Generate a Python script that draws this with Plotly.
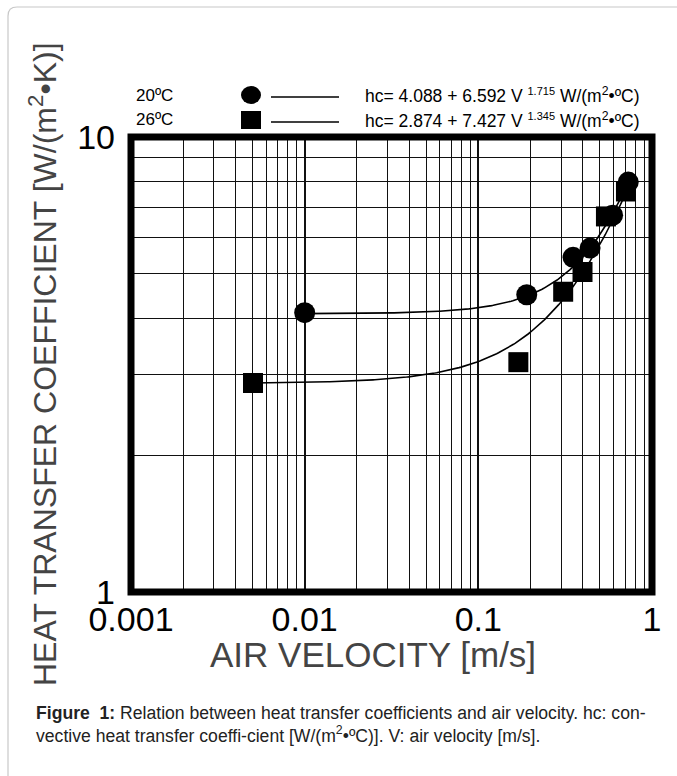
import plotly.graph_objects as go

# ---- data ----
v_20 = [0.010, 0.190, 0.351, 0.440, 0.593, 0.730]
hc_20 = [4.11, 4.50, 5.44, 5.70, 6.73, 7.96]
v_26 = [0.00504, 0.170, 0.308, 0.398, 0.543, 0.708]
hc_26 = [2.88, 3.20, 4.57, 5.05, 6.69, 7.59]

# fitted equations printed on the chart: hc = a + b * V**n
fit_20 = [4.088, 6.592, 1.715]
fit_26 = [2.874, 7.427, 1.345]

x_major = [0.001, 0.01, 0.1, 1]
x_major_text = ["0.001", "0.01", "0.1", "1"]
y_major = [1, 10]
y_major_text = ["1", "10"]
minor_digits = [2, 3, 4, 5, 6, 7, 8, 9]

W, H = 677, 776
L, R, T, B = 131, 25, 137, 184


def px(x):
    return (x - L) / (W - L - R)


def py(y):
    return (H - B - y) / (H - T - B)


def fit_curve(coef, v0, v1, n=200):
    a, b, e = coef
    vs = [v0 * (v1 / v0) ** (i / (n - 1)) for i in range(n)]
    return vs, [a + b * v ** e for v in vs]


x_minor = [d * 10 ** k for k in (-3, -2, -1) for d in minor_digits]
y_minor = [float(d) for d in minor_digits]

fig = go.Figure()

fx, fy = fit_curve(fit_20, v_20[0], v_20[-1])
fig.add_trace(go.Scatter(x=fx, y=fy, mode="lines", line=dict(color="black", width=1.6),
                         showlegend=False, hoverinfo="skip"))
fx, fy = fit_curve(fit_26, v_26[0], v_26[-1])
fig.add_trace(go.Scatter(x=fx, y=fy, mode="lines", line=dict(color="black", width=1.6),
                         showlegend=False, hoverinfo="skip"))
fig.add_trace(go.Scatter(x=v_20, y=hc_20, mode="markers", name="20ºC",
                         marker=dict(symbol="circle", size=21, color="black"), showlegend=False))
fig.add_trace(go.Scatter(x=v_26, y=hc_26, mode="markers", name="26ºC",
                         marker=dict(symbol="square", size=20, color="black"), showlegend=False))

font_main = "Liberation Sans, Arial, Helvetica, sans-serif"

fig.update_xaxes(type="log", range=[-3, 0], tickvals=x_major, ticktext=x_major_text,
                 showgrid=True, gridcolor="#111", gridwidth=2, showline=False, zeroline=False,
                 ticks="", ticklabelstandoff=4,
                 tickfont=dict(size=34, color="black", family=font_main),
                 minor=dict(tickvals=x_minor, showgrid=True, gridcolor="#111", gridwidth=1.3, ticks=""))
fig.update_yaxes(type="log", range=[0, 1], tickvals=y_major, ticktext=y_major_text,
                 showgrid=True, gridcolor="#111", gridwidth=2, showline=False, zeroline=False,
                 ticks="", ticklabelstandoff=15,
                 tickfont=dict(size=34, color="black", family=font_main),
                 minor=dict(tickvals=y_minor, showgrid=True, gridcolor="#111", gridwidth=1.3, ticks=""))

shapes = []
# plot frame
shapes.append(dict(type="rect", xref="paper", yref="paper", x0=0, x1=1, y0=0, y1=1,
                   line=dict(color="black", width=7), layer="above"))
# outer rounded frame (only top and left edges visible)
r = 9
path = (f"M {px(8)},{py(H + 5)} L {px(8)},{py(7 + r)} Q {px(8)},{py(7)} {px(8 + r)},{py(7)} "
        f"L {px(W + 5)},{py(7)}")
shapes.append(dict(type="path", xref="paper", yref="paper", path=path,
                   line=dict(color="#c8c8c8", width=1.2)))
# legend symbols
shapes.append(dict(type="circle", xref="paper", yref="paper", x0=px(241), x1=px(261),
                   y0=py(104), y1=py(86), fillcolor="black", line=dict(color="black", width=0)))
shapes.append(dict(type="rect", xref="paper", yref="paper", x0=px(241), x1=px(261),
                   y0=py(129), y1=py(111), fillcolor="black", line=dict(color="black", width=0)))
shapes.append(dict(type="line", xref="paper", yref="paper", x0=px(271), x1=px(339),
                   y0=py(97), y1=py(97), line=dict(color="black", width=1.3)))
shapes.append(dict(type="line", xref="paper", yref="paper", x0=px(271), x1=px(339),
                   y0=py(122), y1=py(122), line=dict(color="black", width=1.3)))


def exp_sup(s):
    return f"<sup><span style='font-size:11px'>{s}</span></sup>"


annotations = []
annotations.append(dict(text="HEAT TRANSFER COEFFICIENT [W/(m<sup>2</sup>•K)]", textangle=-90,
                        xref="paper", yref="paper", x=px(43), y=py(364), xanchor="center",
                        yanchor="middle", showarrow=False,
                        font=dict(size=32, color="#444", family=font_main)))
annotations.append(dict(text="AIR VELOCITY [m/s]", xref="paper", yref="paper",
                        x=px(373), y=py(654), xanchor="center", yanchor="middle", showarrow=False,
                        font=dict(size=35, color="#444", family=font_main)))
annotations.append(dict(text="20ºC", xref="paper", yref="paper", x=px(134), y=py(95),
                        xanchor="left", yanchor="middle", showarrow=False,
                        font=dict(size=17, color="black", family=font_main)))
annotations.append(dict(text="26ºC", xref="paper", yref="paper", x=px(134), y=py(120),
                        xanchor="left", yanchor="middle", showarrow=False,
                        font=dict(size=17, color="black", family=font_main)))
annotations.append(dict(text=f"hc= 4.088 + 6.592 V {exp_sup('1.715')} W/(m<sup>2</sup>•ºC)",
                        xref="paper", yref="paper", x=px(363), y=py(95),
                        xanchor="left", yanchor="middle", showarrow=False,
                        font=dict(size=17.5, color="black", family=font_main)))
annotations.append(dict(text=f"hc= 2.874 + 7.427 V {exp_sup('1.345')} W/(m<sup>2</sup>•ºC)",
                        xref="paper", yref="paper", x=px(363), y=py(120),
                        xanchor="left", yanchor="middle", showarrow=False,
                        font=dict(size=17.5, color="black", family=font_main)))
annotations.append(dict(text="<b>Figure  1:</b> Relation between heat transfer coefficients and air velocity. hc: con-"
                             "<br>vective heat transfer coeffi-cient [W/(m<sup>2</sup>•ºC)]. V: air velocity [m/s].",
                        xref="paper", yref="paper", x=px(34), y=py(724), xanchor="left",
                        yanchor="middle", align="left", showarrow=False,
                        font=dict(size=17.6, color="#222", family=font_main)))

fig.update_layout(width=W, height=H, margin=dict(l=L, r=R, t=T, b=B, pad=0),
                  paper_bgcolor="white", plot_bgcolor="white", showlegend=False,
                  shapes=shapes, annotations=annotations)

fig.write_html("out.html", config={"displayModeBar": False},
               post_script="document.body.style.margin='0px';document.body.style.overflow='hidden';")
